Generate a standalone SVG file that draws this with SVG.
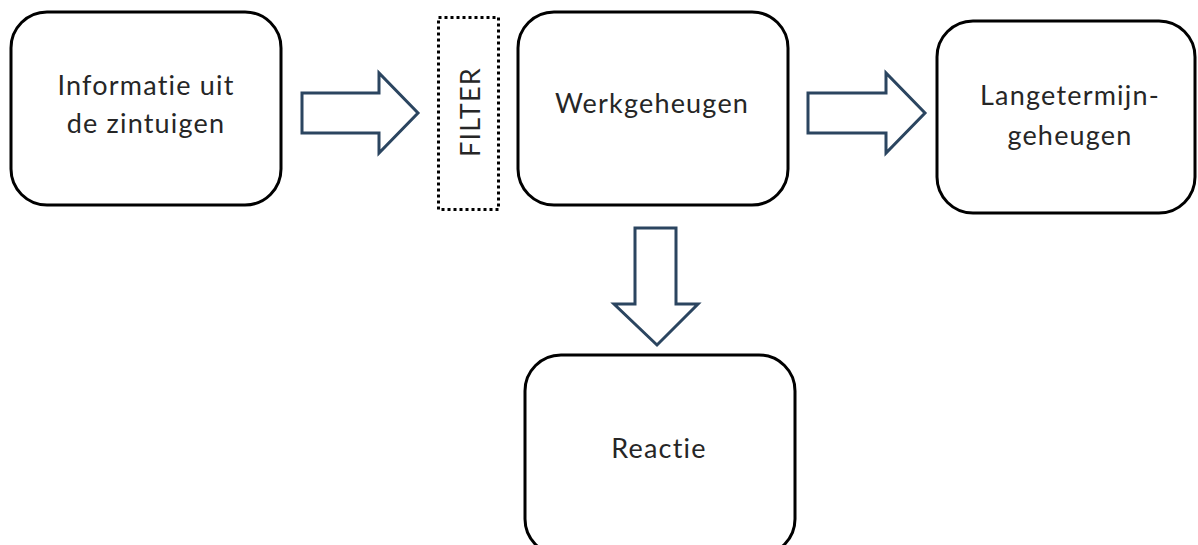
<svg xmlns="http://www.w3.org/2000/svg" width="1198" height="545" viewBox="0 0 1198 545">
<style>
.box{fill:#fff;stroke:#000;stroke-width:3}
.filter{fill:none;stroke:#000;stroke-width:3;stroke-dasharray:3 3}
.arr{fill:#fff;stroke:#2b4560;stroke-width:3;stroke-linejoin:miter}
text{font-family:Lato,"Open Sans",sans-serif;font-size:27px;letter-spacing:1.2px;font-variant-ligatures:none;fill:#262626;text-anchor:middle}
</style>
<rect width="1198" height="545" fill="#fff"/>
<g id="connectors">
<polygon class="arr" points="302,93 379,93 379,73 418,113 379,153 379,133 302,133"/>
<polygon class="arr" points="808,93 886,93 886,73 925,113 886,153 886,133 808,133"/>
<polygon class="arr" points="635,228 676,228 676,304 698,304 657,345 614,304 635,304"/>
</g>
<g id="node-info">
<rect class="box" x="11" y="12" width="270" height="193" rx="36"/>
<text x="146" y="95">Informatie uit</text>
<text x="146" y="133">de zintuigen</text>
</g>
<g id="node-filter">
<rect class="filter" x="438.5" y="17.5" width="60" height="192"/>
<text transform="translate(480,112) rotate(-90)">FILTER</text>
</g>
<g id="node-werk">
<rect class="box" x="518" y="12" width="270" height="193" rx="36"/>
<text x="652" y="113">Werkgeheugen</text>
</g>
<g id="node-lang">
<rect class="box" x="937" y="21" width="258" height="192" rx="36"/>
<text x="1070" y="105">Langetermijn-</text>
<text x="1070" y="145">geheugen</text>
</g>
<g id="node-reactie">
<rect class="box" x="525" y="355" width="270" height="200" rx="36"/>
<text x="659" y="458">Reactie</text>
</g>
</svg>
